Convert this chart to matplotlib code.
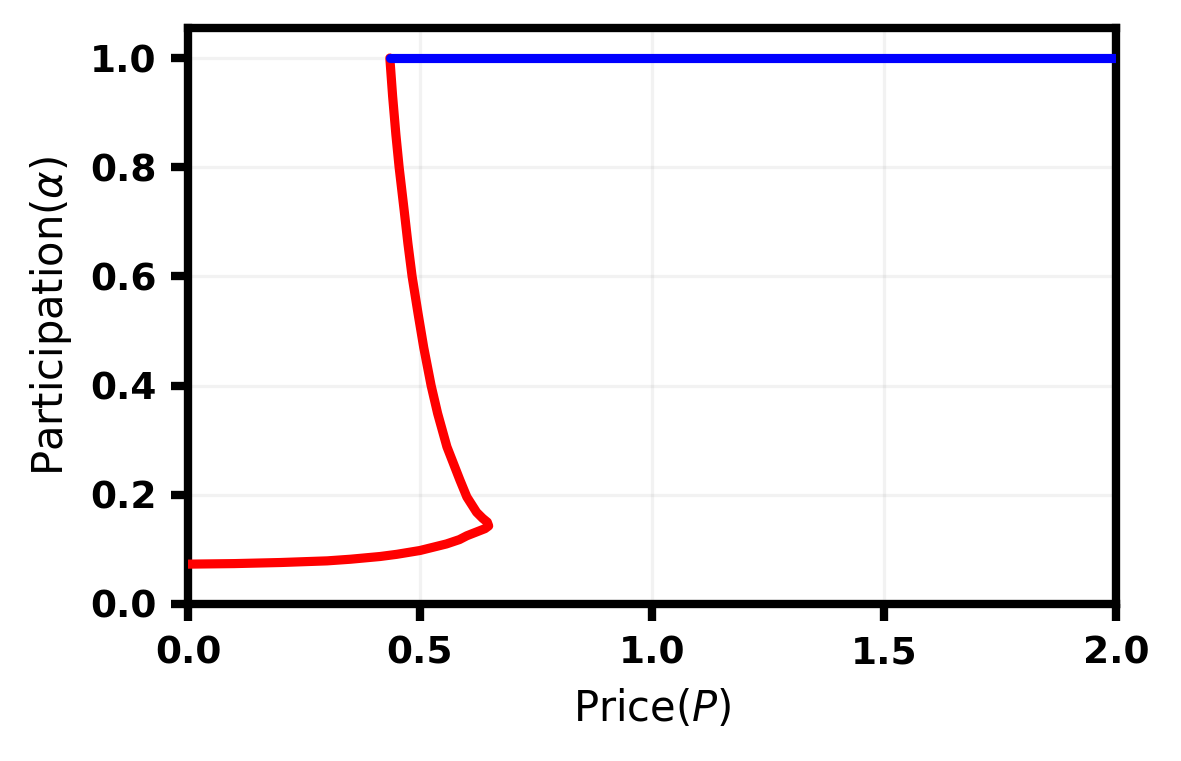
import numpy as np
import matplotlib.pyplot as plt

# lower (stable) red branch
price_low = [0.0, 0.1, 0.2, 0.3, 0.35, 0.414, 0.45, 0.5, 0.557, 0.585, 0.601,
             0.622, 0.64, 0.648]
alpha_low = [0.073, 0.074, 0.076, 0.079, 0.082, 0.087, 0.091, 0.098, 0.110,
             0.118, 0.125, 0.132, 0.138, 0.143]
# upper red branch, from the tip back up to alpha = 1
price_up = [0.645, 0.635, 0.622, 0.601, 0.586, 0.558, 0.538, 0.524, 0.508,
            0.496, 0.483, 0.474, 0.466, 0.455, 0.448, 0.441, 0.435]
alpha_up = [0.150, 0.157, 0.168, 0.196, 0.227, 0.288, 0.349, 0.400, 0.470,
            0.531, 0.600, 0.660, 0.720, 0.800, 0.860, 0.930, 1.000]
# full participation, blue
price_full = [0.435, 2.0]
alpha_full = [1.0, 1.0]

fig = plt.figure(figsize=(1181 / 300, 761 / 300), dpi=300)
ax = fig.add_axes([188 / 1181, 1 - 604 / 761, (1116 - 188) / 1181, (604 - 28) / 761])

ax.plot(price_low + price_up, alpha_low + alpha_up, color='red', lw=2.2,
        solid_capstyle='round', solid_joinstyle='round', zorder=3)
ax.plot(price_full, alpha_full, color='blue', lw=2.2, solid_capstyle='round',
        zorder=4)

ax.set_xlim(0, 2)
ax.set_ylim(0, 1.055)
ax.set_xticks([0.0, 0.5, 1.0, 1.5, 2.0])
ax.set_yticks([0.0, 0.2, 0.4, 0.6, 0.8, 1.0])
ax.grid(True, color='gray', alpha=0.1, lw=0.8)
ax.set_axisbelow(True)

for s in ax.spines.values():
    s.set_linewidth(2)
ax.tick_params(width=2, length=4, labelsize=9)
for lab in ax.get_xticklabels() + ax.get_yticklabels():
    lab.set_fontweight('bold')

ax.set_xlabel('Price($P$)', fontsize=10)
ax.set_ylabel(r'Participation($\alpha$)', fontsize=10)

fig.savefig('out.png', dpi=300)
